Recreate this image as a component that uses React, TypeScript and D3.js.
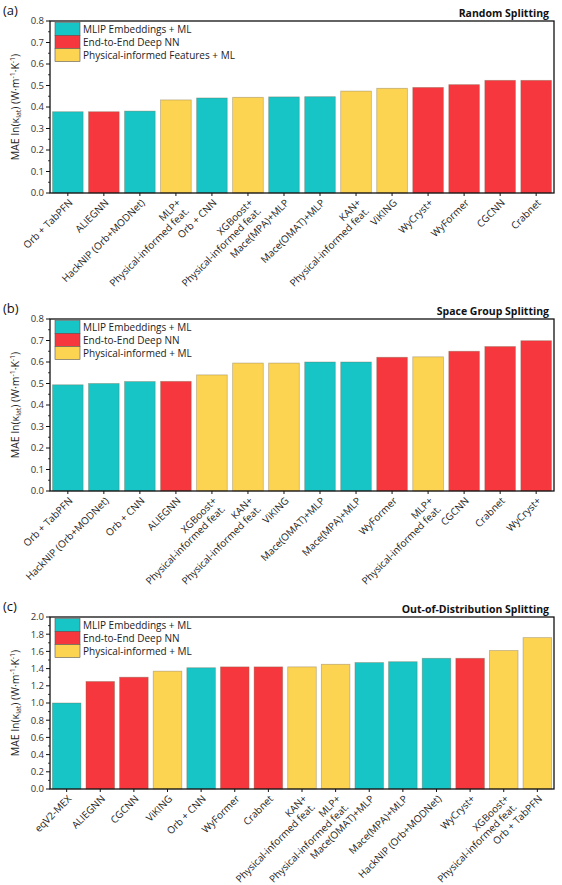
import React from "react";
import * as d3 from "d3";

// Method families
const FAMILY_COLORS: Record<string, string> = {
  mlip: "#17C4C6",
  e2e: "#F6373D",
  phys: "#FDD452",
};

// (a) Random splitting
const randomLabels = [
  "Orb + TabPFN",
  "ALIEGNN",
  "HackNIP (Orb+MODNet)",
  "MLP+\nPhysical-informed feat.",
  "Orb + CNN",
  "XGBoost+\nPhysical-informed feat.",
  "Mace(MPA)+MLP",
  "Mace(OMAT)+MLP",
  "KAN+\nPhysical-informed feat.",
  "ViKING",
  "WyCryst+",
  "WyFormer",
  "CGCNN",
  "Crabnet",
];
const randomValues = [0.378, 0.378, 0.381, 0.433, 0.442, 0.445, 0.447, 0.448, 0.474, 0.487, 0.491, 0.504, 0.524, 0.524];
const randomFamilies = ["mlip", "e2e", "mlip", "phys", "mlip", "phys", "mlip", "mlip", "phys", "phys", "e2e", "e2e", "e2e", "e2e"];

// (b) Space group splitting
const spaceGroupLabels = [
  "Orb + TabPFN",
  "HackNIP (Orb+MODNet)",
  "Orb + CNN",
  "ALIEGNN",
  "XGBoost+\nPhysical-informed feat.",
  "KAN+\nPhysical-informed feat.",
  "ViKING",
  "Mace(OMAT)+MLP",
  "Mace(MPA)+MLP",
  "WyFormer",
  "MLP+\nPhysical-informed feat.",
  "CGCNN",
  "Crabnet",
  "WyCryst+",
];
const spaceGroupValues = [0.494, 0.5, 0.509, 0.51, 0.54, 0.595, 0.595, 0.6, 0.6, 0.622, 0.624, 0.65, 0.672, 0.699];
const spaceGroupFamilies = ["mlip", "mlip", "mlip", "e2e", "phys", "phys", "phys", "mlip", "mlip", "e2e", "phys", "e2e", "e2e", "e2e"];

// (c) Out-of-distribution splitting
const oodLabels = [
  "eqV2-MEX",
  "ALIEGNN",
  "CGCNN",
  "ViKING",
  "Orb + CNN",
  "WyFormer",
  "Crabnet",
  "KAN+\nPhysical-informed feat.",
  "MLP+\nPhysical-informed feat.",
  "Mace(OMAT)+MLP",
  "Mace(MPA)+MLP",
  "HackNIP (Orb+MODNet)",
  "WyCryst+",
  "XGBoost+\nPhysical-informed feat.",
  "Orb + TabPFN",
];
const oodValues = [1.0, 1.25, 1.3, 1.37, 1.41, 1.42, 1.42, 1.42, 1.45, 1.47, 1.48, 1.52, 1.52, 1.61, 1.76];
const oodFamilies = ["mlip", "e2e", "e2e", "phys", "mlip", "e2e", "e2e", "phys", "phys", "mlip", "mlip", "mlip", "e2e", "phys", "phys"];

const legendFamilies = ["mlip", "e2e", "phys"];
const legendLabelsA = ["MLIP Embeddings + ML", "End-to-End Deep NN", "Physical-informed Features + ML"];
const legendLabelsBC = ["MLIP Embeddings + ML", "End-to-End Deep NN", "Physical-informed + ML"];

const FONT = "'Open Sans', 'Noto Sans', sans-serif";
const LEFT = 50;
const RIGHT = 554;
const PLOT_H = 172;

type PanelProps = {
  tag: string;
  title: string;
  top: number;
  labels: string[];
  values: number[];
  families: string[];
  yMax: number;
  tickCount: number;
  legendLabels: string[];
};

function Panel({ tag, title, top, labels, values, families, yMax, tickCount, legendLabels }: PanelProps) {
  const bottom = top + PLOT_H;
  const y = d3.scaleLinear().domain([0, yMax]).range([bottom, top]);
  const x = d3
    .scaleBand<number>()
    .domain(d3.range(labels.length))
    .range([LEFT, RIGHT])
    .paddingInner(0.15)
    .paddingOuter(0.07);
  const ticks = y.ticks(tickCount);
  const step = ticks[1] - ticks[0];
  const minor = d3.range(0, ticks.length - 1).map((i) => ticks[i] + step / 2);
  const fmt = d3.format(".1f");
  const midY = (top + bottom) / 2;

  return (
    <g>
      {/* panel tag and title */}
      <text x={3} y={top - 6} fontFamily={FONT} fontSize={13} fill="#111">
        {tag}
      </text>
      <text x={RIGHT - 5} y={top - 4} fontFamily={FONT} fontSize={10.5} fontWeight={700} textAnchor="end" fill="#111">
        {title}
      </text>

      {/* bars */}
      {values.map((v, i) => (
        <rect
          key={i}
          x={x(i)}
          y={y(v)}
          width={x.bandwidth()}
          height={bottom - y(v)}
          fill={FAMILY_COLORS[families[i]]}
          stroke="#7a6a50"
          strokeOpacity={0.45}
          strokeWidth={0.8}
        />
      ))}

      {/* frame */}
      <rect x={LEFT} y={top} width={RIGHT - LEFT} height={PLOT_H} fill="none" stroke="#111" strokeWidth={1.3} />

      {/* y axis */}
      {ticks.map((t) => (
        <g key={t}>
          <line x1={LEFT - 4} x2={LEFT} y1={y(t)} y2={y(t)} stroke="#111" strokeWidth={1} />
          <text x={LEFT - 6} y={y(t)} dy="0.35em" textAnchor="end" fontFamily={FONT} fontSize={9.5} fill="#333">
            {fmt(t)}
          </text>
        </g>
      ))}
      {minor.map((t) => (
        <line key={"m" + t} x1={LEFT - 2} x2={LEFT} y1={y(t)} y2={y(t)} stroke="#111" strokeWidth={0.8} />
      ))}
      <text
        transform={`translate(19,${midY}) rotate(-90)`}
        textAnchor="middle"
        fontFamily={FONT}
        fontSize={10.5}
        fill="#222"
      >
        <tspan>MAE ln(κ</tspan>
        <tspan dy={2} fontSize={7}>lat</tspan>
        <tspan dy={-2}>) (W·m</tspan>
        <tspan dy={-4} fontSize={7}>-1</tspan>
        <tspan dy={4}>·K</tspan>
        <tspan dy={-4} fontSize={7}>-1</tspan>
        <tspan dy={4}>)</tspan>
      </text>

      {/* x axis ticks and labels */}
      {labels.map((lab, i) => {
        const cx = (x(i) as number) + x.bandwidth() / 2;
        const lines = lab.split("\n");
        return (
          <g key={"x" + i}>
            <line x1={cx} x2={cx} y1={bottom} y2={bottom + 3} stroke="#111" strokeWidth={1} />
            <text
              transform={`translate(${cx + 3},${bottom + 8}) rotate(-45)`}
              textAnchor="end"
              fontFamily={FONT}
              fontSize={10}
              fill="#222"
            >
              {lines.map((ln, k) => (
                <tspan key={k} x={0} dy={k === 0 ? "0.35em" : "1.15em"}>
                  {ln}
                </tspan>
              ))}
            </text>
          </g>
        );
      })}

      {/* legend */}
      {legendFamilies.map((f, i) => (
        <g key={f}>
          <rect
            x={LEFT + 5}
            y={top + 1.5 + i * 13}
            width={25}
            height={13}
            fill={FAMILY_COLORS[f]}
            stroke="#555"
            strokeWidth={0.6}
          />
          <text
            x={LEFT + 33}
            y={top + 8 + i * 13}
            dy="0.35em"
            fontFamily={FONT}
            fontSize={10}
            fill="#222"
          >
            {legendLabels[i]}
          </text>
        </g>
      ))}
    </g>
  );
}

export default function App() {
  return (
    <svg width={562} height={885} style={{ position: "absolute", left: 0, top: 0, background: "#fff" }}>
      <rect width={562} height={885} fill="#fff" />
      <Panel
        tag="(a)"
        title="Random Splitting"
        top={21}
        labels={randomLabels}
        values={randomValues}
        families={randomFamilies}
        yMax={0.8}
        tickCount={8}
        legendLabels={legendLabelsA}
      />
      <Panel
        tag="(b)"
        title="Space Group Splitting"
        top={319}
        labels={spaceGroupLabels}
        values={spaceGroupValues}
        families={spaceGroupFamilies}
        yMax={0.8}
        tickCount={8}
        legendLabels={legendLabelsBC}
      />
      <Panel
        tag="(c)"
        title="Out-of-Distribution Splitting"
        top={617}
        labels={oodLabels}
        values={oodValues}
        families={oodFamilies}
        yMax={2.0}
        tickCount={10}
        legendLabels={legendLabelsBC}
      />
    </svg>
  );
}
